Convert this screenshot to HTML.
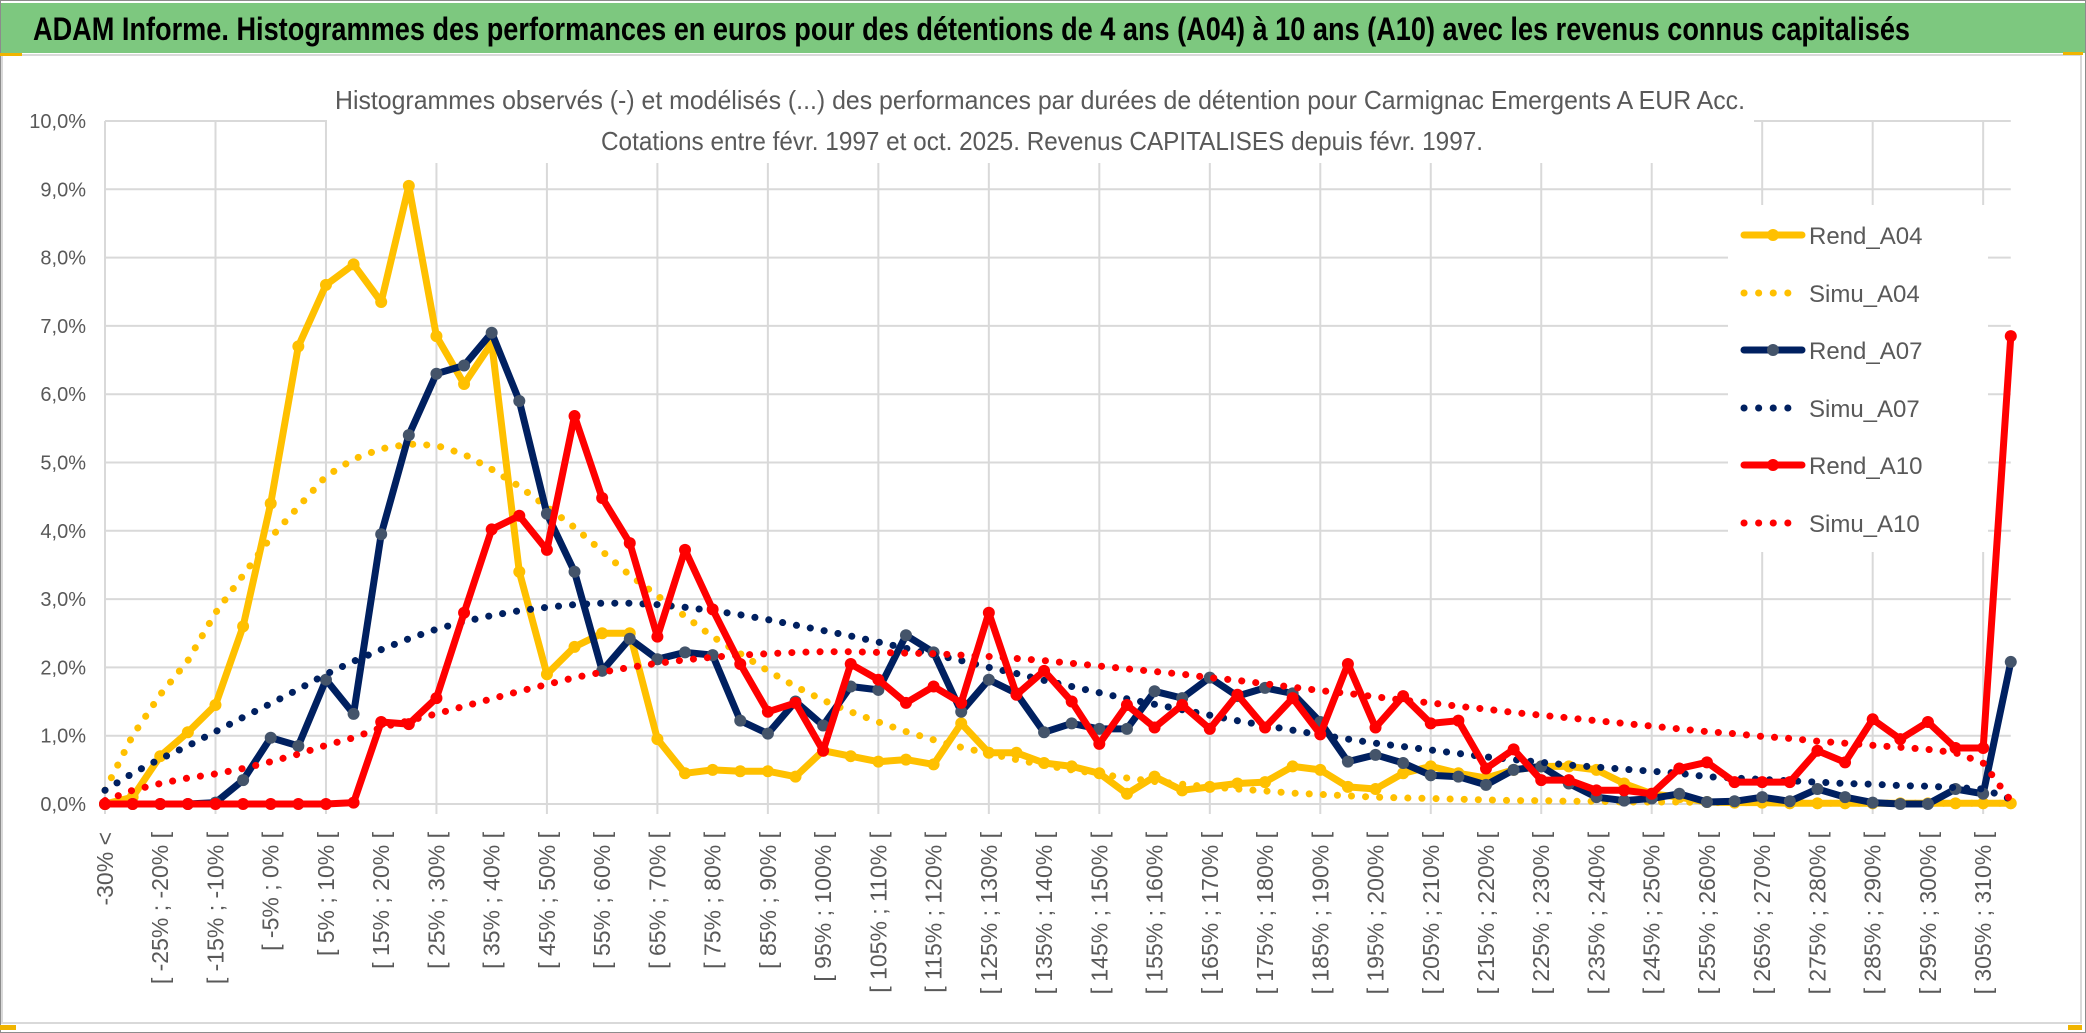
<!DOCTYPE html>
<html><head><meta charset="utf-8">
<style>
html,body{margin:0;padding:0;background:#fff;}
svg{display:block;font-family:"Liberation Sans",sans-serif;}
</style></head>
<body>
<svg id="chart" width="2086" height="1033" viewBox="0 0 2086 1033" xmlns="http://www.w3.org/2000/svg">
<rect x="0" y="0" width="2086" height="1033" fill="#fff"/>
<rect x="0.5" y="0.5" width="2085" height="1032" fill="none" stroke="#8c8c8c"/>
<rect x="1" y="3" width="2084" height="50" fill="#7dc87f"/>
<text x="33" y="40" font-size="32" font-weight="bold" fill="#000" textLength="1877" lengthAdjust="spacingAndGlyphs">ADAM Informe. Histogrammes des performances en euros pour des détentions de 4 ans (A04) à 10 ans (A10) avec les revenus connus capitalisés</text>
<rect x="2" y="55" width="2079" height="968" fill="none" stroke="#d9d9d9" stroke-width="2"/>
<rect x="0" y="53" width="22" height="3" fill="#f0b400"/>
<rect x="2063" y="52" width="20" height="3" fill="#f0b400"/>
<rect x="0" y="1025" width="16" height="5" fill="#f0b400"/>
<rect x="2068" y="1025" width="14" height="5" fill="#f0b400"/>
<g id="grid"></g>
<g id="yaxis"></g>
<g id="xaxis"></g>
<rect x="327" y="58" width="1427" height="105" fill="#fff"/>
<text x="335" y="109" font-size="26" fill="#595959" textLength="1410" lengthAdjust="spacingAndGlyphs">Histogrammes observés (-) et modélisés (...) des performances par durées de détention pour Carmignac Emergents A EUR Acc.</text>
<text x="601" y="150" font-size="26" fill="#595959" textLength="882" lengthAdjust="spacingAndGlyphs">Cotations entre févr. 1997 et oct. 2025. Revenus CAPITALISES depuis févr. 1997.</text>
<g id="series"></g>
<g id="legend"></g>
</svg>
<script>
const categories = ["-30% <","[ -30% ; -25% [","[ -25% ; -20% [","[ -20% ; -15% [","[ -15% ; -10% [","[ -10% ; -5% [","[ -5% ; 0% [","[ 0% ; 5% [","[ 5% ; 10% [","[ 10% ; 15% [","[ 15% ; 20% [","[ 20% ; 25% [","[ 25% ; 30% [","[ 30% ; 35% [","[ 35% ; 40% [","[ 40% ; 45% [","[ 45% ; 50% [","[ 50% ; 55% [","[ 55% ; 60% [","[ 60% ; 65% [","[ 65% ; 70% [","[ 70% ; 75% [","[ 75% ; 80% [","[ 80% ; 85% [","[ 85% ; 90% [","[ 90% ; 95% [","[ 95% ; 100% [","[ 100% ; 105% [","[ 105% ; 110% [","[ 110% ; 115% [","[ 115% ; 120% [","[ 120% ; 125% [","[ 125% ; 130% [","[ 130% ; 135% [","[ 135% ; 140% [","[ 140% ; 145% [","[ 145% ; 150% [","[ 150% ; 155% [","[ 155% ; 160% [","[ 160% ; 165% [","[ 165% ; 170% [","[ 170% ; 175% [","[ 175% ; 180% [","[ 180% ; 185% [","[ 185% ; 190% [","[ 190% ; 195% [","[ 195% ; 200% [","[ 200% ; 205% [","[ 205% ; 210% [","[ 210% ; 215% [","[ 215% ; 220% [","[ 220% ; 225% [","[ 225% ; 230% [","[ 230% ; 235% [","[ 235% ; 240% [","[ 240% ; 245% [","[ 245% ; 250% [","[ 250% ; 255% [","[ 255% ; 260% [","[ 260% ; 265% [","[ 265% ; 270% [","[ 270% ; 275% [","[ 275% ; 280% [","[ 280% ; 285% [","[ 285% ; 290% [","[ 290% ; 295% [","[ 295% ; 300% [","[ 300% ; 305% [","[ 305% ; 310% [","[ 310% ; 315% ["];
const yTicks = [0,1,2,3,4,5,6,7,8,9,10];
const yTickLabels = ["0,0%","1,0%","2,0%","3,0%","4,0%","5,0%","6,0%","7,0%","8,0%","9,0%","10,0%"];
const rendA04 = [0,0.1,0.7,1.05,1.45,2.6,4.4,6.7,7.6,7.9,7.35,9.05,6.85,6.15,6.75,3.4,1.9,2.3,2.5,2.5,0.95,0.45,0.5,0.48,0.48,0.4,0.78,0.7,0.62,0.65,0.58,1.18,0.75,0.75,0.6,0.55,0.45,0.15,0.4,0.2,0.25,0.3,0.32,0.55,0.5,0.25,0.22,0.45,0.55,0.45,0.38,0.5,0.55,0.55,0.5,0.3,0.15,0.1,0.03,0.02,0.02,0.01,0.01,0.01,0.01,0.01,0.01,0.01,0.01,0.01];
const simuA04 = [0.2,1.0,1.6,2.1,2.8,3.35,3.9,4.35,4.8,5.05,5.2,5.27,5.25,5.12,4.9,4.65,4.35,4.05,3.7,3.35,3.05,2.75,2.45,2.2,1.95,1.72,1.52,1.35,1.2,1.06,0.94,0.83,0.74,0.65,0.57,0.5,0.44,0.38,0.33,0.29,0.25,0.22,0.19,0.16,0.14,0.12,0.1,0.09,0.08,0.07,0.06,0.05,0.05,0.04,0.04,0.03,0.03,0.03,0.02,0.02,0.02,0.02,0.01,0.01,0.01,0.01,0.01,0.01,0.01,0.01];
const rendA07 = [0,0,0,0,0.02,0.35,0.97,0.85,1.82,1.32,3.95,5.4,6.3,6.42,6.9,5.9,4.25,3.4,1.95,2.42,2.12,2.22,2.18,1.22,1.03,1.5,1.15,1.72,1.67,2.47,2.22,1.35,1.82,1.62,1.05,1.18,1.1,1.1,1.65,1.55,1.85,1.58,1.7,1.62,1.2,0.62,0.72,0.6,0.42,0.4,0.28,0.5,0.55,0.3,0.1,0.05,0.08,0.15,0.03,0.04,0.1,0.04,0.22,0.1,0.02,0,0,0.22,0.15,2.08];
const simuA07 = [0.2,0.45,0.66,0.85,1.06,1.27,1.47,1.68,1.9,2.09,2.26,2.42,2.56,2.67,2.76,2.83,2.88,2.92,2.94,2.94,2.92,2.88,2.83,2.77,2.7,2.62,2.54,2.46,2.37,2.28,2.19,2.1,2.0,1.91,1.81,1.72,1.63,1.54,1.46,1.38,1.3,1.22,1.15,1.08,1.01,0.95,0.89,0.84,0.79,0.74,0.69,0.65,0.61,0.57,0.54,0.51,0.48,0.45,0.4,0.38,0.36,0.34,0.32,0.3,0.29,0.27,0.26,0.24,0.22,0.07];
const rendA10 = [0,0,0,0,0,0,0,0,0,0.02,1.2,1.17,1.55,2.8,4.02,4.22,3.72,5.68,4.48,3.82,2.45,3.72,2.85,2.05,1.35,1.48,0.78,2.05,1.82,1.48,1.72,1.48,2.8,1.6,1.95,1.5,0.88,1.45,1.12,1.45,1.1,1.6,1.12,1.55,1.02,2.05,1.12,1.58,1.18,1.22,0.52,0.8,0.35,0.35,0.2,0.2,0.15,0.52,0.61,0.32,0.32,0.32,0.78,0.61,1.24,0.95,1.2,0.82,0.82,6.85];
const simuA10 = [0.05,0.2,0.3,0.38,0.44,0.52,0.62,0.73,0.86,0.97,1.12,1.22,1.32,1.43,1.54,1.65,1.75,1.85,1.93,2.0,2.06,2.11,2.15,2.18,2.2,2.22,2.23,2.23,2.22,2.21,2.2,2.18,2.16,2.13,2.1,2.06,2.02,1.98,1.94,1.9,1.85,1.81,1.76,1.71,1.66,1.62,1.57,1.52,1.48,1.43,1.39,1.34,1.3,1.26,1.22,1.18,1.14,1.1,1.06,1.03,0.99,0.96,0.92,0.89,0.86,0.83,0.8,0.75,0.6,0.05];
const seriesNames = ["Rend_A04","Simu_A04","Rend_A07","Simu_A07","Rend_A10","Simu_A10"];

const NS = "http://www.w3.org/2000/svg";
const X0 = 105, XSTEP = 27.62, Y0 = 804, YUNIT = 68.3;
function xPos(i){ return X0 + i * XSTEP; }
function yPos(v){ return Y0 - v * YUNIT; }
function mk(tag, attrs, parent){
  const e = document.createElementNS(NS, tag);
  for (const k in attrs) e.setAttribute(k, attrs[k]);
  parent.appendChild(e);
  return e;
}
const grid = document.getElementById('grid');
const xmaxGrid = xPos(categories.length - 1);
yTicks.forEach(function(t){
  const l = mk('line', {x1: X0, x2: xmaxGrid, y1: yPos(t), y2: yPos(t), stroke: '#d9d9d9', 'stroke-width': 2}, grid);
  
  
});
for (let i = 0; i < categories.length; i += 4) {
  const l = mk('line', {x1: xPos(i), x2: xPos(i), y1: yPos(yTicks[yTicks.length-1]), y2: yPos(0) + 10, stroke: '#d9d9d9', 'stroke-width': 2}, grid);
  
  
}
const yaxis = document.getElementById('yaxis');
yTicks.forEach(function(t, k){
  const tx = mk('text', {x: 86, y: yPos(t) + 7, 'font-size': 20, fill: '#595959', 'text-anchor': 'end'}, yaxis);
  tx.textContent = yTickLabels[k];
  
  
});
const xaxis = document.getElementById('xaxis');
for (let i = 0; i < categories.length; i += 2) {
  const x = xPos(i) + 8, y = 832;
  const tx = mk('text', {x: x, y: y, 'font-size': 23, fill: '#595959', 'text-anchor': 'end', transform: 'rotate(-90 ' + x + ' ' + y + ')'}, xaxis);
  tx.textContent = categories[i];
  
  
}
const series = document.getElementById('series');
function pts(arr){ return arr.map(function(v, i){ return xPos(i).toFixed(1) + ',' + yPos(v).toFixed(1); }).join(' '); }
function solid(arr, color, marker, name){
  const g = mk('g', {}, series);
  
  
  const p = mk('polyline', {points: pts(arr), fill: 'none', stroke: color, 'stroke-width': 7, 'stroke-linejoin': 'round', 'stroke-linecap': 'round'}, g);
  
  
  arr.forEach(function(v, i){
    const c = mk('circle', {cx: xPos(i), cy: yPos(v), r: 6, fill: marker}, g);
    
    
  });
}
function dotted(arr, color, name){
  const p = mk('polyline', {points: pts(arr), fill: 'none', stroke: color, 'stroke-width': 7, 'stroke-linecap': 'round', 'stroke-dasharray': '0.1 14'}, series);
  
  
}
solid(rendA04, '#ffc000', '#ffc000', 'rend-a04');
dotted(simuA04, '#ffc000', 'simu-a04');
solid(rendA07, '#002060', '#44546a', 'rend-a07');
dotted(simuA07, '#002060', 'simu-a07');
solid(rendA10, '#ff0000', '#ff0000', 'rend-a10');
dotted(simuA10, '#ff0000', 'simu-a10');

const legend = document.getElementById('legend');
const bg = mk('rect', {x: 1728, y: 205, width: 260, height: 347, fill: '#fff'}, legend);


const legColors = ['#ffc000','#ffc000','#002060','#002060','#ff0000','#ff0000'];
const legMarkers = ['#ffc000',null,'#44546a',null,'#ff0000',null];
const legY = [235,293,350,408,465,523];
seriesNames.forEach(function(n, k){
  const g = mk('g', {}, legend);
  
  
  const y = legY[k];
  if (legMarkers[k]) {
    mk('line', {x1: 1744, x2: 1802, y1: y, y2: y, stroke: legColors[k], 'stroke-width': 7, 'stroke-linecap': 'round'}, g);
    mk('circle', {cx: 1773, cy: y, r: 6, fill: legMarkers[k]}, g);
  } else {
    mk('line', {x1: 1744, x2: 1802, y1: y, y2: y, stroke: legColors[k], 'stroke-width': 7, 'stroke-linecap': 'round', 'stroke-dasharray': '0.1 14.5'}, g);
  }
  const t = mk('text', {x: 1809, y: y + 9, 'font-size': 24, fill: '#595959'}, g);
  t.textContent = n;
});
</script>
</body></html>
